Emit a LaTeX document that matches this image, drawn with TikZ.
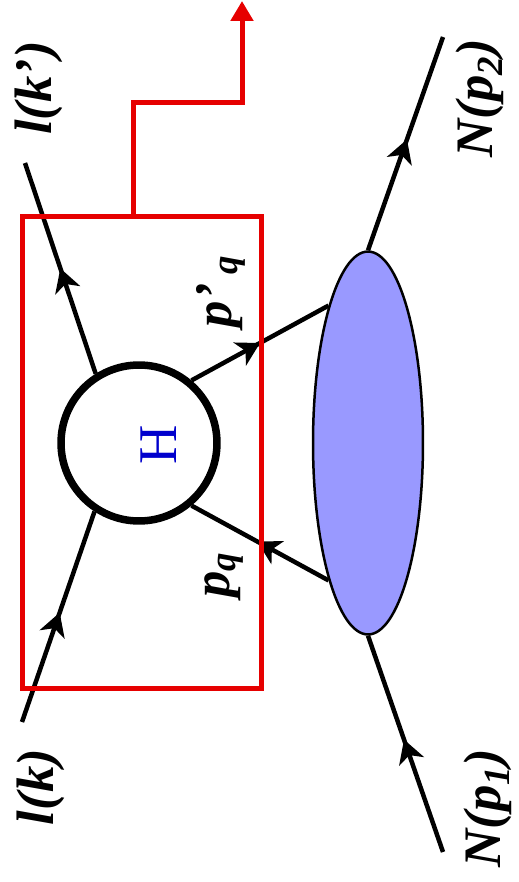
\documentclass[tikz,border=0pt]{standalone}
\usepackage{fontspec}
\setmainfont{Liberation Serif}
\usetikzlibrary{positioning,shapes.geometric,arrows.meta,decorations.markings}
\definecolor{blob}{RGB}{153,153,255}
\definecolor{boxred}{RGB}{230,0,0}
\definecolor{hblue}{RGB}{0,0,205}

\begin{document}
\begin{tikzpicture}[x=0.02cm,y=-0.02cm,
  leg/.style={line width=0.09cm},
  midarrow/.style={postaction={decorate},decoration={markings,
    mark=at position #1 with {\arrow{Stealth[length=0.46cm,width=0.52cm,inset=0.13cm]}}}},
  lbl/.style={rotate=90,inner sep=0pt,font=\fontsize{30}{30}\selectfont\bfseries\itshape}]
  \useasboundingbox (0,0) rectangle (518,882);

  % blobs
  \node[circle,draw,line width=0.15cm,minimum size=3.12cm,inner sep=0pt] (H) at (139,443) {};
  \node[rotate=90,inner sep=0pt,text=hblue,font=\fontsize{31}{31}\selectfont] (Hlbl) at (159,445) {H};
  \node[ellipse,draw,fill=blob,line width=0.05cm,minimum width=2.2cm,minimum height=7.66cm,inner sep=0pt] (N) at (368,443) {};

  % external legs
  \coordinate (lk) at (22,722);  \coordinate (lkp) at (25,163);
  \coordinate (np1) at (443,852); \coordinate (np2) at (443,37);
  \draw[leg,midarrow=0.52] (lk) -- (H.237);
  \draw[leg,midarrow=0.5] (H.122) -- (lkp);
  \draw[leg,midarrow=0.52] (np1) -- (N.south);
  \draw[leg,midarrow=0.52] (N.north) -- (np2);

  % quark lines
  \draw[leg,midarrow=0.5] (H.50) -- (N.106);
  \draw[leg,midarrow=0.52] (N.254) -- (H.310);

  % frame and signal
  \node[draw=boxred,line width=0.1cm,minimum width=4.8cm,minimum height=9.46cm,inner sep=0pt] (frame) at (142,452.5) {};
  \coordinate (sig) at (242,1);
  \draw[boxred,line width=0.1cm,-{Triangle[length=0.4cm,width=0.44cm]}]
    ([xshift=-0.18cm]frame.north) -- ++(0,-111) -| (sig);

  % labels
  \node[lbl] (lklbl) at (41,787) {l(k)};
  \node[lbl] (lkplbl) at (39,88) {l(k')};
  \node[lbl] (np1lbl) at (488,808) {N(p\textsubscript{1})};
  \node[lbl] (np2lbl) at (480,98) {N(p\textsubscript{2})};
  \node[lbl] (pqlbl) at (224,575) {p\textsubscript{q}};
  \node[lbl] (pqplbl) at (221,291) {p'\,\textsubscript{q}};
\end{tikzpicture}
\end{document}
